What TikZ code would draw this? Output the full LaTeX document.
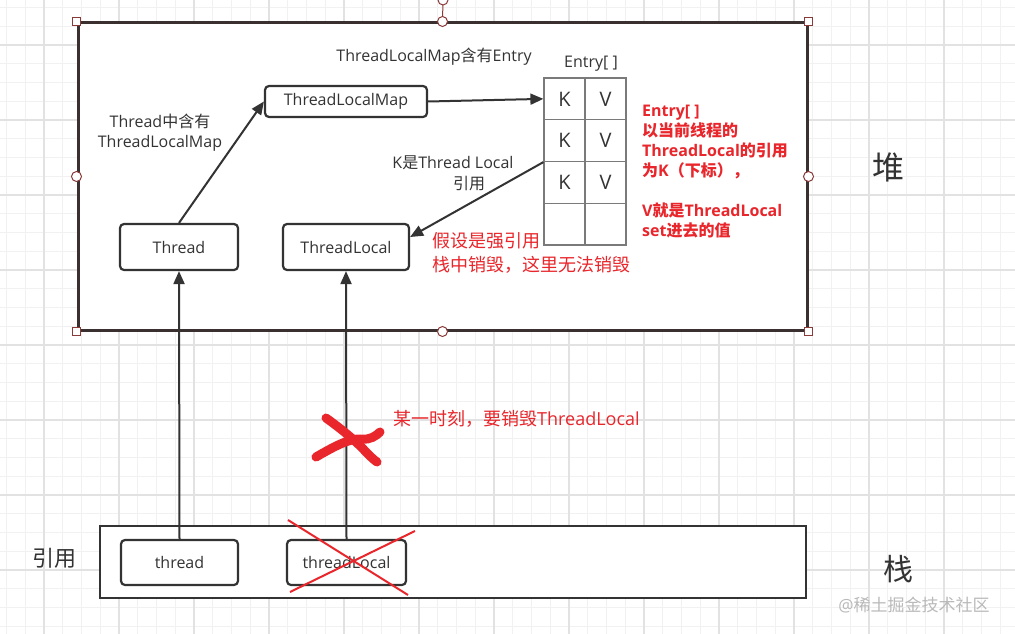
\documentclass[tikz,border=0pt]{standalone}
\usepackage{fontspec}
\setmainfont{Open Sans}
\newfontfamily\cjk{Noto Sans CJK SC}
\usetikzlibrary{arrows.meta}
\definecolor{ink}{HTML}{333333}
\definecolor{heapink}{HTML}{3A3030}
\definecolor{handle}{HTML}{8B3A3A}
\definecolor{redtxt}{HTML}{E8262B}
\definecolor{gridminor}{HTML}{F1F1F1}
\definecolor{gridmajor}{HTML}{E2E2E2}
\definecolor{cellgray}{HTML}{7A7A7A}
\tikzset{
  box/.style={draw=ink, line width=2.2pt, rounded corners=4pt, fill=white, inner sep=0pt,
    text=ink, font=\fontsize{16}{19}\selectfont},
  region/.style={draw=heapink, line width=3pt, fill=white, inner sep=0pt},
  cellbox/.style={draw=cellgray, line width=1.2pt, minimum width=41pt, minimum height=41.75pt,
    inner sep=0pt, text=ink, font=\fontsize{20}{24}\selectfont},
  arr/.style={draw=ink, line width=2pt, -{Triangle[length=13pt,width=11pt]}},
  lbl/.style={text=ink, inner sep=0pt, font=\fontsize{16}{20}\selectfont},
  redlbl/.style={text=redtxt, inner sep=0pt},
  hsq/.style={draw=handle, line width=1pt, fill=white, minimum size=8pt, inner sep=0pt},
  hcirc/.style={draw=handle, line width=1pt, fill=white, circle, minimum size=10pt, inner sep=0pt},
  redmark/.style={draw=redtxt, line width=9pt, line cap=round},
  redline/.style={draw=redtxt, line width=2pt},
}
\begin{document}
\begin{tikzpicture}[x=1pt,y=-1pt]
\useasboundingbox (0,0) rectangle (1015,634);
\fill[white] (0,0) rectangle (1015,634);
% background grid
\foreach \k in {0,...,54} {\draw[gridminor, line width=1pt] ({6.5+18.75*\k},0) -- ({6.5+18.75*\k},634);}
\foreach \k in {0,...,33} {\draw[gridminor, line width=1pt] (0,{7.5+18.75*\k}) -- (1015,{7.5+18.75*\k});}
\foreach \k in {0,...,13} {\draw[gridmajor, line width=1.2pt] ({44+75*\k-75},0) -- ({44+75*\k-75},634);}
\foreach \k in {0,...,8} {\draw[gridmajor, line width=1.2pt] (0,{45+75*\k-75}) -- (1015,{45+75*\k-75});}

% heap region
\node[region, minimum width=729pt, minimum height=307pt] (heap) at (442.5,176.5) {};
% selection handles
\draw[handle, line width=1pt] (443,0) -- (heap.north);
\node[hcirc] (hrot) at (443,0) {};
\node[hsq] (hnw) at (heap.north west) {};
\node[hsq] (hne) at (heap.north east) {};
\node[hsq] (hsw) at (heap.south west) {};
\node[hsq] (hse) at (heap.south east) {};
\node[hcirc] (hn) at (heap.north) {};
\node[hcirc] (hs) at (heap.south) {};
\node[hcirc] (hw) at (heap.west) {};
\node[hcirc] (he) at (heap.east) {};

% stack region
\node[region, draw=ink, line width=2.6pt, minimum width=706pt, minimum height=72pt] (stack) at (453,562) {};

% heap nodes
\node[box, minimum width=162pt, minimum height=31pt] (tlm) at (346,101.5) {ThreadLocalMap};
\node[box, minimum width=118pt, minimum height=46pt] (Thread) at (179,247) {Thread};
\node[box, minimum width=126pt, minimum height=46pt] (TL) at (346,247) {ThreadLocal};

% entry table
\foreach \r/\kk/\vv in {1/K/V,2/K/V,3/K/V,4//} {
  \node[cellbox] (c\r1) at (564.5,{78+20.875+41.75*(\r-1)}) {\kk};
  \node[cellbox] (c\r2) at (605.5,{78+20.875+41.75*(\r-1)}) {\vv};
}

% stack nodes
\node[box, minimum width=117pt, minimum height=45pt] (thread) at (179.5,562.5) {thread};
\node[box, minimum width=119pt, minimum height=45pt] (tlocal) at (346.5,562.5) {threadLocal};

% connectors
\draw[arr] (Thread.north) -- (tlm.west);
\draw[arr] (tlm.east) -- (c11.west);
\draw[arr] (c21.south west) -- ([yshift=10pt]TL.east);
\draw[arr] (thread.north) -- (Thread.south);
\draw[arr] (tlocal.north) -- (TL.south);

% labels
\node[lbl] (lmapentry) at (434,57) {ThreadLocalMap{\cjk 含有}Entry};
\node[lbl] (lentry) at (591,64) {Entry[ ]};
\node[lbl, align=center] (lthread) at (160,133) {Thread{\cjk 中含有}\\ThreadLocalMap};
\node[lbl] (lk1) at (453,163) {K{\cjk 是}Thread Local};
\node[lbl] (lk2) at (469,184) {\cjk 引用};
\node[redlbl, anchor=west, align=left, font=\fontsize{18}{24}\selectfont\cjk] (lstrong) at (432,253)
  {假设是强引用\\栈中销毁，这里无法销毁};
\node[redlbl, anchor=west, align=left, font=\fontsize{16}{20}\selectfont\bfseries] (lentrydesc) at (642,172)
  {Entry[ ]\\{\cjk 以当前线程的}\\ThreadLocal{\cjk 的引用}\\{\cjk 为}K{\cjk （下标），}\\[20pt]V{\cjk 就是}ThreadLocal\\set{\cjk 进去的值}};
\node[text=ink, inner sep=0pt, font=\fontsize{32}{36}\selectfont\cjk] (lheap) at (888,167) {堆};
\node[text=ink, inner sep=0pt, font=\fontsize{30}{34}\selectfont\cjk] (lstack) at (898,569) {栈};
\node[text=ink, inner sep=0pt, font=\fontsize{22}{26}\selectfont\cjk] (lref) at (54,558) {引用};
\node[redlbl, anchor=west, font=\fontsize{18}{22}\selectfont] (ldestroy) at (393,419) {{\cjk 某一时刻，要销毁}ThreadLocal};
\node[text=gray!55, inner sep=0pt, font=\fontsize{17}{20}\selectfont] (lwm) at (914,605) {@{\cjk 稀土掘金技术社区}};

% red marks
\draw[redmark] (316,457) .. controls (335,446) and (350,438) .. (362,439) .. controls (370,440) and (376,436) .. (380,432);
\draw[redmark] (326,418) .. controls (340,428) and (355,440) .. (366,452) .. controls (370,456) and (374,460) .. (377,462);
\draw[redline] (288,520) -- (408,595);
\draw[redline] (290,592) -- (415,531);
\end{tikzpicture}
\end{document}
